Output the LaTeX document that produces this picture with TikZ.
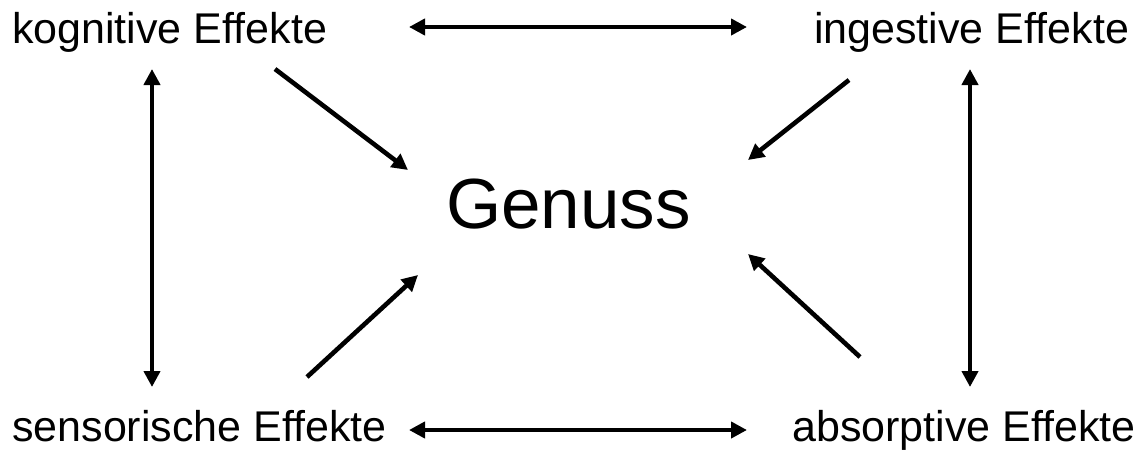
\documentclass[tikz,border=0pt]{standalone}
\usepackage{fontspec}
\setmainfont{Liberation Sans}
\usetikzlibrary{arrows.meta}
\begin{document}
\begin{tikzpicture}[x=1pt,y=-1pt,
  lbl/.style={inner sep=0pt,anchor=base west,font=\fontsize{43}{50}\selectfont},
  tip/.style={},
  conn/.style={line width=4.6pt,-{Triangle[length=16pt,width=16pt]}},
  dconn/.style={line width=4.6pt,{Triangle[length=16pt,width=16pt]}-{Triangle[length=16pt,width=16pt]}}]
\useasboundingbox[fill=white] (0,0) rectangle (1141,453);
\node[lbl] (k) at (12,43) {kognitive Effekte};
\node[lbl] (i) at (814,43) {ingestive Effekte};
\node[lbl] (s) at (12,441) {sensorische Effekte};
\node[lbl] (a) at (792,441) {absorptive Effekte};
\node[inner sep=0pt,anchor=base west,font=\fontsize{71}{80}\selectfont] (g) at (446,228) {Genuss};
% arrow end points
\coordinate (kr) at (409,27);  \coordinate (il) at (747,27);
\coordinate (sr) at (409,430); \coordinate (al) at (747,430);
\coordinate (kb) at (152,69);  \coordinate (st) at (152,387);
\coordinate (ib) at (970,69);  \coordinate (at) at (970,387);
\coordinate (k1) at (275,69);  \coordinate (g1) at (408,170);
\coordinate (i1) at (849,80);  \coordinate (g2) at (748,160);
\coordinate (s1) at (307,377); \coordinate (g3) at (418,275);
\coordinate (a1) at (860,357); \coordinate (g4) at (748,254);
\draw[dconn] (kr) -- (il);
\draw[dconn] (sr) -- (al);
\draw[dconn] (kb) -- (st);
\draw[dconn] (ib) -- (at);
\draw[conn] (k1) -- (g1);
\draw[conn] (i1) -- (g2);
\draw[conn] (s1) -- (g3);
\draw[conn] (a1) -- (g4);
\end{tikzpicture}
\end{document}
